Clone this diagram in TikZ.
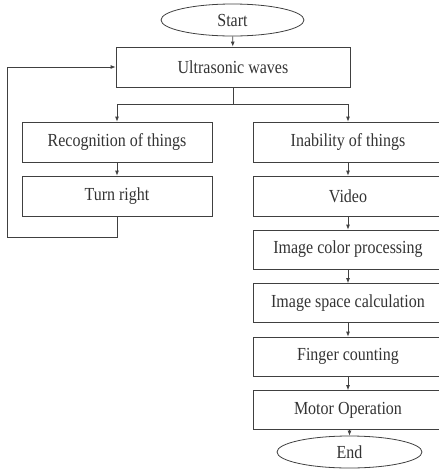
\documentclass[tikz,border=0pt]{standalone}
\usepackage{fontspec}
\setmainfont{Liberation Serif}
\usetikzlibrary{shapes.geometric,arrows.meta}
\newcommand\tx[1]{\scalebox{1}[1.15]{#1}}
\begin{document}
\begin{tikzpicture}[x=1pt,y=-1pt,
  line/.style={draw=black!75,line width=0.8pt},
  arr/.style={line,-{Latex[length=5pt,width=4pt]}},
  boxn/.style={line,rectangle,minimum width=190pt,minimum height=40pt,inner sep=0pt,text=black!80,font=\fontsize{16}{18}\selectfont},
  termn/.style={line,ellipse,minimum width=143pt,minimum height=32pt,inner sep=0pt,text=black!80,font=\fontsize{16}{18}\selectfont}]
\useasboundingbox (0,0) rectangle (439,475);
\node[termn] (start) at (232.5,20) {\tx{Start}};
\node[boxn,minimum width=234pt] (ultra) at (233,67) {\tx{Ultrasonic waves}};
\node[boxn] (rec) at (117,142) {\tx{Recognition of things}};
\node[boxn] (turn) at (117,196) {\tx{Turn right}};
\node[boxn] (inab) at (348,142) {\tx{Inability of things}};
\node[boxn] (video) at (348,196) {\tx{Video}};
\node[boxn,minimum height=39pt] (color) at (348,249.5) {\tx{Image color processing}};
\node[boxn,minimum height=39pt] (space) at (348,303) {\tx{Image space calculation}};
\node[boxn,minimum height=39pt] (finger) at (348,356.5) {\tx{Finger counting}};
\node[boxn,minimum height=39pt] (motor) at (348,410) {\tx{Motor Operation}};
\node[termn,minimum width=145pt] (end) at (349.5,452) {\tx{End}};
\coordinate (jn) at (233,104);
\draw[arr] (start) -- (ultra);
\draw[line] (ultra.south) -- (jn);
\draw[arr] (jn) -| (rec.north);
\draw[arr] (jn) -| (inab.north);
\draw[arr] (rec) -- (turn);
\draw[arr] (inab) -- (video);
\draw[arr] (video) -- (color);
\draw[arr] (color) -- (space);
\draw[arr] (space) -- (finger);
\draw[arr] (finger) -- (motor);
\draw[arr] (motor.south -| end.north) -- (end.north);
\coordinate (fb1) at (7,237);
\draw[arr] (turn.south) |- (fb1) |- (ultra.west);
\end{tikzpicture}
\end{document}
